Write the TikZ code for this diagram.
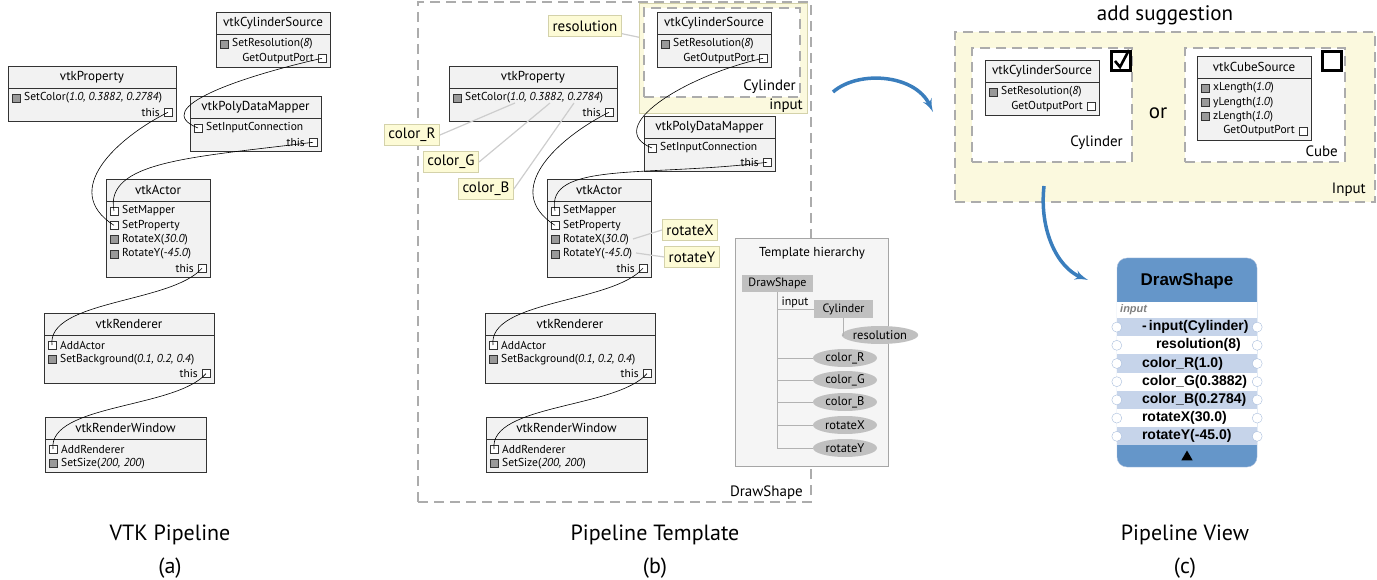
\documentclass[tikz,border=0pt]{standalone}
\usepackage{fontspec}
\setmainfont{PT Sans}
\newfontfamily\arialfont{Liberation Sans}
\usepackage{tikz}
\usetikzlibrary{shapes,arrows,positioning,calc}

\definecolor{dashgray}{RGB}{172,172,172}
\definecolor{hintgray}{RGB}{205,205,205}
\definecolor{notefill}{RGB}{253,251,214}
\definecolor{notedraw}{RGB}{212,210,170}
\definecolor{inputfill}{RGB}{251,249,222}
\definecolor{treegray}{RGB}{192,192,192}
\definecolor{dsblue}{RGB}{101,150,201}
\definecolor{dsrowblue}{RGB}{198,212,234}
\definecolor{dsportdraw}{RGB}{168,189,220}
\definecolor{arrowblue}{RGB}{58,126,189}

\tikzstyle{vtkhead} = [draw=black!80, line width=0.8pt, fill=black!5, minimum height=22pt, inner sep=0pt, outer sep=0pt, anchor=north west, font=\fontsize{13}{15}\selectfont]
\tikzstyle{vtkbody} = [draw=black!80, line width=0.8pt, fill=black!5, inner sep=0pt, outer sep=0pt]
\tikzstyle{port} = [draw=black!80, line width=0.6pt, fill=white, minimum size=8pt, inner sep=0pt]
\tikzstyle{valsq} = [draw=black!80, line width=0.6pt, fill=black!40, minimum size=8pt, inner sep=0pt]
\tikzstyle{rowtxt} = [anchor=west, inner sep=0pt, font=\fontsize{11.5}{13}\selectfont]
\tikzset{
  wire/.style ={draw, line width=0.6pt},
  note/.style ={draw=notedraw, line width=0.8pt, fill=notefill, minimum height=21pt, inner xsep=4pt, font=\fontsize{15}{17}\selectfont},
  hint/.style ={draw=hintgray, line width=1.2pt},
  dashframe/.style ={draw=dashgray, line width=1.6pt, dash pattern=on 10pt off 6pt, inner sep=0pt, outer sep=0pt, anchor=north west},
  inregion/.style ={draw=notedraw, fill=inputfill, inner sep=0pt, outer sep=0pt, anchor=north west},
  framelabel/.style ={anchor=east, inner sep=0pt, font=\fontsize{15}{17}\selectfont},
  treebox/.style ={draw=black!35, fill=black!4, inner sep=0pt, anchor=north west},
  treerect/.style ={fill=treegray, inner sep=0pt, minimum height=18pt, font=\fontsize{12}{14}\selectfont},
  treeleaf/.style ={ellipse, fill=treegray, inner sep=0pt, minimum width=64pt, minimum height=18pt, font=\fontsize{12.5}{14}\selectfont},
  treeline/.style ={draw=black!30, line width=0.8pt},
  chkbox/.style ={draw, line width=2.4pt, fill=white, minimum size=19pt, inner sep=0pt},
  dsnode/.style ={draw=dsportdraw, fill=dsblue, rounded corners=10pt, minimum width=140pt, minimum height=209pt, inner sep=0pt},
  dsrow/.style ={minimum width=140pt, minimum height=18.2pt, inner sep=0pt},
  dstext/.style ={anchor=west, inner sep=0pt, font=\arialfont\bfseries\fontsize{14}{16}\selectfont},
  dsport/.style ={circle, draw=dsportdraw, fill=white, minimum size=10pt, inner sep=0pt},
  bigarrow/.style ={draw=arrowblue, line width=3.5pt, -latex'},
  captxt/.style ={font=\fontsize{22}{24}\selectfont}
}

\newcommand{\vtkbox}[5]{%
  \node[vtkhead, minimum width=#3] (#1) at #2 {#4};
  \node[vtkbody, minimum width=#3, minimum height=#5*14.3+5, below=0pt of #1] (#1-b) {};
}
\newcommand{\valrow}[3]{%
  \node[valsq] (#1-#2) at ($(#1-b.north west)+(8,10+#2*14.3)$) {};
  \node[rowtxt] (#1-#2t) at ($(#1-b.north west)+(16,10+#2*14.3)$) {#3};
}
\newcommand{\inrow}[3]{%
  \node[port] (#1-#2) at ($(#1-b.north west)+(8,10+#2*14.3)$) {};
  \node[rowtxt] (#1-#2t) at ($(#1-b.north west)+(16,10+#2*14.3)$) {#3};
}
\newcommand{\outrow}[3]{%
  \node[port] (#1-#2) at ($(#1-b.north east)+(-8,10+#2*14.3)$) {};
  \node[rowtxt, anchor=east] (#1-#2t) at ($(#1-b.north east)+(-16,10+#2*14.3)$) {#3};
}
\newcommand{\vtkpipeline}[2]{%
  \vtkbox{#1cyl}{(216,12)}{114}{vtkCylinderSource}{2}
  \valrow{#1cyl}{0}{SetResolution(\textit{8})}
  \outrow{#1cyl}{1}{GetOutputPort}
  \vtkbox{#1prop}{(8,66)}{168}{vtkProperty}{2}
  \valrow{#1prop}{0}{SetColor(\textit{1.0, 0.3882, 0.2784})}
  \outrow{#1prop}{1}{this}
  \vtkbox{#1map}{#2}{131}{vtkPolyDataMapper}{2}
  \inrow{#1map}{0}{SetInputConnection}
  \outrow{#1map}{1}{this}
  \vtkbox{#1act}{(106,179)}{104}{vtkActor}{5}
  \inrow{#1act}{0}{SetMapper}
  \inrow{#1act}{1}{SetProperty}
  \valrow{#1act}{2}{RotateX(\textit{30.0})}
  \valrow{#1act}{3}{RotateY(\textit{-45.0})}
  \outrow{#1act}{4}{this}
  \vtkbox{#1ren}{(44,313)}{170}{vtkRenderer}{3}
  \inrow{#1ren}{0}{AddActor}
  \valrow{#1ren}{1}{SetBackground(\textit{0.1, 0.2, 0.4})}
  \outrow{#1ren}{2}{this}
  \vtkbox{#1win}{(45,417)}{161}{vtkRenderWindow}{2}
  \inrow{#1win}{0}{AddRenderer}
  \valrow{#1win}{1}{SetSize(\textit{200, 200})}
  \draw[wire] (#1cyl-1.center) .. controls +(-80,18) and +(-50,-20) .. (#1map-0.center);
  \draw[wire] (#1prop-1.center) .. controls +(-50,25) and +(-55,-35) .. (#1act-1.center);
  \draw[wire] (#1map-1.center) .. controls +(-120,15) and +(-10,-50) .. (#1act-0.center);
  \draw[wire] (#1act-4.center) .. controls +(-30,35) and +(-5,-45) .. (#1ren-0.center);
  \draw[wire] (#1ren-2.center) .. controls +(-30,35) and +(-5,-45) .. (#1win-0.center);
}
\newcommand{\dsline}[4]{%
  \node[dsrow, fill=#3] (#1) at (1187,#2) {};
  \node[dstext] (#1t) at ($(#1.west)+(25,0)$) {#4};
  \node[dsport] (#1l) at (#1.west) {};
  \node[dsport] (#1r) at (#1.east) {};
}

\begin{document}
\begin{tikzpicture}[x=1pt,y=-1pt]
  \useasboundingbox (0,0) rectangle (1377,580);

  % VTK pipeline
  \vtkpipeline{a}{(190,96)}

  % pipeline template
  \node[note] (lres) at (585,26) {resolution};
  \coordinate (resval) at (700,50);
  \draw[hint] (lres) -- (resval);
  \node[inregion, minimum width=168, minimum height=110] (binput) at (639,3) {};
  \node[dashframe, minimum width=393, minimum height=500] (bframe) at (418,2) {};
  \node[dashframe, fill=white, minimum width=156, minimum height=89] (bcylframe) at (644,8) {};
  \node[framelabel] (bcyltxt) at ($(bcylframe.south east)+(-4,-10)$) {Cylinder};
  \node[framelabel] (bintxt) at ($(binput.south east)+(-4,-7)$) {input};
  \node[framelabel] (bframetxt) at ($(bframe.south east)+(-8,-9)$) {DrawShape};
  \begin{scope}[xshift=441pt]
    \vtkpipeline{b}{(203,116)}
  \end{scope}

  \node[note] (lcr) at (412,135) {color\_R};
  \node[note] (lcg) at (451,162) {color\_G};
  \node[note] (lcb) at (486,189) {color\_B};
  \node[note] (lrx) at (690,230) {rotateX};
  \node[note] (lry) at (692,257) {rotateY};
  \coordinate (vcr) at ($(bprop-b.north west)+(66,15)$);
  \coordinate (vcg) at ($(bprop-b.north west)+(101,15)$);
  \coordinate (vcb) at ($(bprop-b.north west)+(125,15)$);
  \coordinate (vrx) at ($(bact-b.north west)+(86,38)$);
  \coordinate (vry) at ($(bact-b.north west)+(89,52)$);
  \draw[hint] (lcr.east) -- (vcr);
  \draw[hint] (lcg.east) -- (vcg);
  \draw[hint] (lcb.east) -- (vcb);
  \draw[hint] (lrx.west) -- (vrx);
  \draw[hint] (lry.west) -- (vry);

  \node[treebox, minimum width=153, minimum height=228] (thier) at (735,238) {};
  \node[font=\fontsize{13}{15}\selectfont] (thiertxt) at (812,253) {Template hierarchy};
  \node[treerect, minimum width=71, minimum height=17] (tdraw) at (777.5,283.5) {DrawShape};
  \node[treerect, minimum width=59] (tcyl) at (843.5,309) {Cylinder};
  \node[treeleaf] (tres) at (880,335) {resolution};
  \node[treeleaf] (tcr) at (845,358) {color\_R};
  \node[treeleaf] (tcg) at (845,380) {color\_G};
  \node[treeleaf] (tcb) at (845,402) {color\_B};
  \node[treeleaf] (trotx) at (845,425) {rotateX};
  \node[treeleaf] (troty) at (845,448) {rotateY};
  \node[inner sep=0pt, font=\fontsize{12}{14}\selectfont] (tinput) at (795,302) {input};
  \draw[treeline] (tdraw.south) |- (troty);
  \draw[treeline] (tdraw.south |- tcyl) -- (tcyl);
  \draw[treeline] (tdraw.south |- tcr) -- (tcr);
  \draw[treeline] (tdraw.south |- tcg) -- (tcg);
  \draw[treeline] (tdraw.south |- tcb) -- (tcb);
  \draw[treeline] (tdraw.south |- trotx) -- (trotx);
  \draw[treeline] (tcyl.south) |- (tres);

  % pipeline view
  \node[font=\fontsize{21}{23}\selectfont] (sugg) at (1165,15) {add suggestion};
  \node[dashframe, fill=inputfill, minimum width=420, minimum height=170] (cinput) at (955,32) {};
  \node[dashframe, fill=white, minimum width=160, minimum height=114] (ccylframe) at (972,48) {};
  \node[dashframe, fill=white, minimum width=160, minimum height=114] (ccubeframe) at (1185,48) {};
  \node[framelabel] (ccyltxt) at ($(ccylframe.south east)+(-9,-19)$) {Cylinder};
  \node[framelabel] (ccubetxt) at ($(ccubeframe.south east)+(-7,-11)$) {Cube};
  \node[framelabel] (cintxt) at ($(cinput.south east)+(-9,-12)$) {Input};
  \node[font=\fontsize{21}{23}\selectfont] (ortxt) at (1158,113) {or};
  \node[chkbox] (chk) at (1121,61) {};
  \draw[line width=2.6pt] ($(chk.center)+(-6,0)$) -- ($(chk.center)+(-1,6)$) -- ($(chk.center)+(8,-11)$);
  \node[chkbox] (unchk) at (1332,61) {};
  \vtkbox{ccyl}{(985,60)}{114}{vtkCylinderSource}{2}
  \valrow{ccyl}{0}{SetResolution(\textit{8})}
  \outrow{ccyl}{1}{GetOutputPort}
  \vtkbox{ccube}{(1197,56)}{114}{vtkCubeSource}{4}
  \valrow{ccube}{0}{xLength(\textit{1.0})}
  \valrow{ccube}{1}{yLength(\textit{1.0})}
  \valrow{ccube}{2}{zLength(\textit{1.0})}
  \outrow{ccube}{3}{GetOutputPort}

  \node[dsnode] (ds) at (1187,362.5) {};
  \node[font=\arialfont\bfseries\fontsize{17}{19}\selectfont] (dstitle) at (1187,281) {DrawShape};
  \node[dsrow, fill=white, minimum height=16pt] (dsin) at (1187,310) {};
  \node[anchor=west, inner sep=0pt, text=black!50, font=\arialfont\bfseries\itshape\fontsize{11}{13}\selectfont] (dsintxt) at (1120,310) {input};
  \dsline{ds1}{327.1}{dsrowblue}{-\,input(Cylinder)}
  \dsline{ds2}{345.3}{white}{\hspace{14pt}resolution(8)}
  \dsline{ds3}{363.5}{dsrowblue}{color\_R(1.0)}
  \dsline{ds4}{381.7}{white}{color\_G(0.3882)}
  \dsline{ds5}{399.9}{dsrowblue}{color\_B(0.2784)}
  \dsline{ds6}{418.1}{white}{rotateX(30.0)}
  \dsline{ds7}{436.3}{dsrowblue}{rotateY(-45.0)}
  \node[regular polygon, regular polygon sides=3, fill=black, minimum size=13pt, inner sep=0pt] (dsup) at (1187,457) {};

  \coordinate (arrowa) at (833,92);
  \coordinate (arrowb) at (933,112);
  \draw[bigarrow] (arrowa) .. controls +(25,-22) and +(-18,-38) .. (arrowb);
  \coordinate (arrowc) at (1044,186);
  \coordinate (arrowd) at (1088,280);
  \draw[bigarrow] (arrowc) .. controls +(-5,45) and +(-30,-12) .. (arrowd);

  \node[captxt] (capa) at (170,535) {VTK Pipeline};
  \node[captxt] (laba) at (170,568) {(a)};
  \node[captxt] (capb) at (655,535) {Pipeline Template};
  \node[captxt] (labb) at (655,568) {(b)};
  \node[captxt] (capc) at (1185,535) {Pipeline View};
  \node[captxt] (labc) at (1185,568) {(c)};
\end{tikzpicture}
\end{document}
